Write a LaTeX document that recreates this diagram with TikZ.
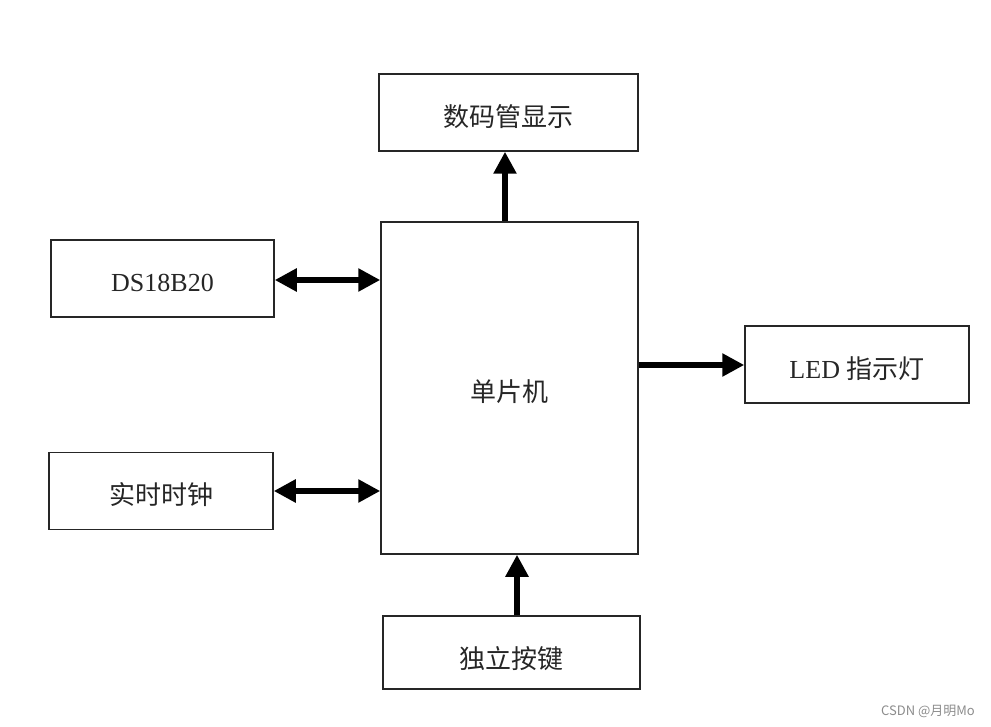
\documentclass[tikz,border=0pt]{standalone}
\usepackage{fontspec}
\setmainfont{Liberation Serif}
\newfontfamily\cjk{Noto Sans CJK SC}
\usetikzlibrary{arrows.meta}
\begin{document}
\begin{tikzpicture}[x=1pt,y=-1pt,
  blk/.style={draw=black!85,line width=1.5pt,minimum height=#1,inner sep=0pt},
  blk/.default=77pt,
  lbl/.style={inner sep=0pt,font=\fontsize{26}{28}\selectfont,text=black!85},
  conn/.style={line width=6pt,-{Triangle[length=22pt,width=22pt]}},
  dconn/.style={line width=6pt,{Triangle[length=22pt,width=22pt]}-{Triangle[length=22pt,width=22pt]}}]
\useasboundingbox (0,0) rectangle (991,727);
\node[blk, minimum width=259pt] (disp) at (508.5,112.5) {};
\node[blk=332pt, minimum width=257pt] (mcu) at (509.5,388) {};
\node[blk, minimum width=223pt] (ds) at (162.5,278.5) {};
\node[blk, minimum width=224pt] (rtc) at (161,491) {};
\node[blk, minimum width=224pt] (led) at (857,364.5) {};
\node[blk=73pt, minimum width=257pt] (key) at (511.5,652.5) {};
\node[lbl] (dispt) at ([yshift=-4pt]disp.center) {\cjk 数码管显示};
\node[lbl] (mcut) at ([yshift=-4pt]mcu.center) {\cjk 单片机};
\node[lbl] (dst) at ([yshift=-4pt]ds.center) {DS18B20};
\node[lbl] (rtct) at ([yshift=-4pt]rtc.center) {\cjk 实时时钟};
\node[lbl] (ledt) at ([yshift=-4pt]led.center) {LED {\cjk 指示灯}};
\node[lbl] (keyt) at ([yshift=-6pt]key.center) {\cjk 独立按键};
\draw[conn] (mcu.north -| 505,0) -- (disp.south -| 505,0);
\draw[conn] (key.north -| 517,0) -- (mcu.south -| 517,0);
\draw[dconn] (ds.east |- 0,280) -- (mcu.west |- 0,280);
\draw[dconn] (rtc.east |- 0,491) -- (mcu.west |- 0,491);
\draw[conn] (mcu.east |- 0,365) -- (led.west |- 0,365);
\node[font=\cjk\fontsize{13}{15}\selectfont, text=black!45] (wm) at (928,711) {CSDN @月明Mo};
\end{tikzpicture}
\end{document}
